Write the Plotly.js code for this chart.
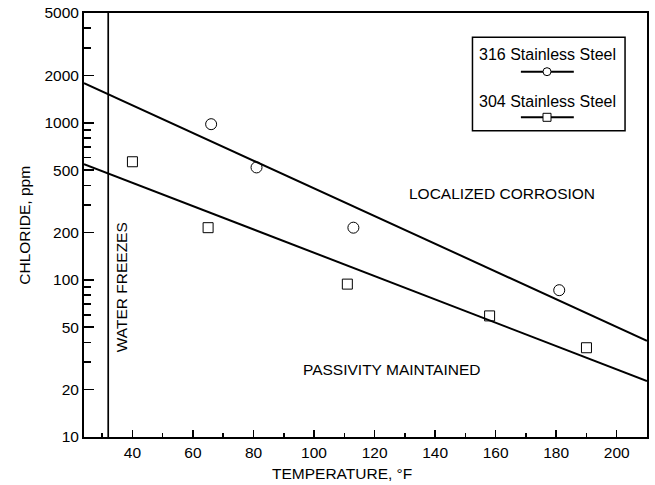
<!DOCTYPE html>
<html>
<head>
<meta charset="utf-8">
<script src="https://cdn.plot.ly/plotly-3.0.1.min.js"></script>
<style>html,body{margin:0;padding:0;background:#fff;}#chart{width:655px;height:485px;}</style>
</head>
<body>
<div id="chart"></div>
<script>
// Data
const ss316Temp = [66, 81, 113, 181];
const ss316Chloride = [980, 520, 215, 86];
const ss304Temp = [40, 65, 111, 158, 190];
const ss304Chloride = [565, 215, 94, 59, 37];
// Boundary lines (end points)
const line316Temp = [24, 210];
const line316Chloride = [1790, 41];
const line304Temp = [24, 210];
const line304Chloride = [546, 22.7];
const freezeTemp = 32;
const yTickVals = [10, 20, 50, 100, 200, 500, 1000, 2000, 5000];
const yMinorVals = [30, 40, 60, 70, 80, 90, 300, 400, 600, 700, 800, 900, 3000, 4000];

const FONT = '"Liberation Sans", Arial, sans-serif';
const traces = [
  {x: line316Temp, y: line316Chloride, mode: 'lines', line: {color: '#000', width: 2}, showlegend: false, hoverinfo: 'skip'},
  {x: line304Temp, y: line304Chloride, mode: 'lines', line: {color: '#000', width: 2}, showlegend: false, hoverinfo: 'skip'},
  {x: ss316Temp, y: ss316Chloride, mode: 'markers', name: '316 Stainless Steel',
   marker: {symbol: 'circle-open', size: 11, color: '#000', line: {width: 1, color: '#000'}}, showlegend: false},
  {x: ss304Temp, y: ss304Chloride, mode: 'markers', name: '304 Stainless Steel',
   marker: {symbol: 'square-open', size: 10, color: '#000', line: {width: 1, color: '#000'}}, showlegend: false}
];

const legend = {x0: 0.690, x1: 0.961, y0: 0.7224, y1: 0.9427};
const layout = {
  width: 655, height: 485,
  margin: {l: 84, r: 8, t: 13, b: 48},
  paper_bgcolor: '#fff', plot_bgcolor: '#fff',
  font: {family: FONT, size: 15.5, color: '#000'},
  showlegend: false,
  xaxis: {
    range: [24, 210], tick0: 0, dtick: 20, ticks: 'inside', ticklen: 7, tickwidth: 1.5, tickcolor: '#000',
    showline: true, linewidth: 2, linecolor: '#000', mirror: true, showgrid: false, zeroline: false,
    minor: {dtick: 10, tick0: 0, ticks: 'inside', ticklen: 4, tickwidth: 1.5, tickcolor: '#000', showgrid: false},
    tickfont: {family: FONT, size: 15.5, color: '#000'}
  },
  yaxis: {
    type: 'log', range: [1, Math.log10(5000)], tickmode: 'array', tickvals: yTickVals, ticktext: yTickVals.map(String),
    ticks: 'inside', ticklen: 10, tickwidth: 1.5, tickcolor: '#000',
    showline: true, linewidth: 2, linecolor: '#000', mirror: true, showgrid: false, zeroline: false,
    minor: {tickmode: 'array', tickvals: yMinorVals, ticks: 'inside', ticklen: 7, tickwidth: 1.5, tickcolor: '#000', showgrid: false},
    tickfont: {family: FONT, size: 15.5, color: '#000'}
  },
  shapes: [
    {type: 'line', xref: 'x', yref: 'paper', x0: freezeTemp, x1: freezeTemp, y0: 0, y1: 1, line: {color: '#000', width: 1.7}},
    {type: 'rect', xref: 'paper', yref: 'paper', x0: legend.x0, x1: legend.x1, y0: legend.y0, y1: legend.y1,
     line: {color: '#000', width: 1.5}, fillcolor: '#fff', layer: 'above'},
    {type: 'line', xref: 'paper', yref: 'paper', x0: 0.776, x1: 0.870, y0: 0.8616, y1: 0.8616, line: {color: '#000', width: 2}},
    {type: 'circle', xref: 'paper', yref: 'paper', xsizemode: 'pixel', ysizemode: 'pixel',
     xanchor: 0.8224, yanchor: 0.8616, x0: -4, x1: 4, y0: -4, y1: 4, fillcolor: '#fff', line: {color: '#000', width: 1}},
    {type: 'line', xref: 'paper', yref: 'paper', x0: 0.776, x1: 0.870, y0: 0.754, y1: 0.754, line: {color: '#000', width: 2}},
    {type: 'rect', xref: 'paper', yref: 'paper', xsizemode: 'pixel', ysizemode: 'pixel',
     xanchor: 0.8224, yanchor: 0.754, x0: -4, x1: 4, y0: -4, y1: 4, fillcolor: '#fff', line: {color: '#000', width: 1}}
  ],
  annotations: [
    {text: 'TEMPERATURE, °F', xref: 'paper', yref: 'paper', x: 0.459, y: -0.087, showarrow: false,
     font: {family: FONT, size: 15.5, color: '#000'}, xanchor: 'center', yanchor: 'middle'},
    {text: 'CHLORIDE, ppm', xref: 'paper', yref: 'paper', x: -0.107, y: 0.5, showarrow: false, textangle: -90,
     font: {family: FONT, size: 15.5, color: '#000'}, xanchor: 'center', yanchor: 'middle'},
    {text: '316 Stainless Steel', xref: 'paper', yref: 'paper', x: 0.8224, y: 0.9033, showarrow: false,
     font: {family: FONT, size: 16, color: '#000'}, xanchor: 'center', yanchor: 'middle'},
    {text: '304 Stainless Steel', xref: 'paper', yref: 'paper', x: 0.8224, y: 0.7908, showarrow: false,
     font: {family: FONT, size: 16, color: '#000'}, xanchor: 'center', yanchor: 'middle'},
    {text: 'LOCALIZED CORROSION', xref: 'x', yref: 'y', x: 162.1, y: 2.548, showarrow: false,
     font: {family: FONT, size: 15.5, color: '#000'}, xanchor: 'center', yanchor: 'middle'},
    {text: 'PASSIVITY MAINTAINED', xref: 'x', yref: 'y', x: 125.5, y: 1.427, showarrow: false,
     font: {family: FONT, size: 15.5, color: '#000'}, xanchor: 'center', yanchor: 'middle'},
    {text: 'WATER FREEZES', xref: 'x', yref: 'paper', x: 36.2, y: 0.353, showarrow: false, textangle: -90,
     font: {family: FONT, size: 15.5, color: '#000'}, xanchor: 'center', yanchor: 'middle'}
  ]
};

Plotly.newPlot('chart', traces, layout, {staticPlot: true, displayModeBar: false});
</script>
</body>
</html>
